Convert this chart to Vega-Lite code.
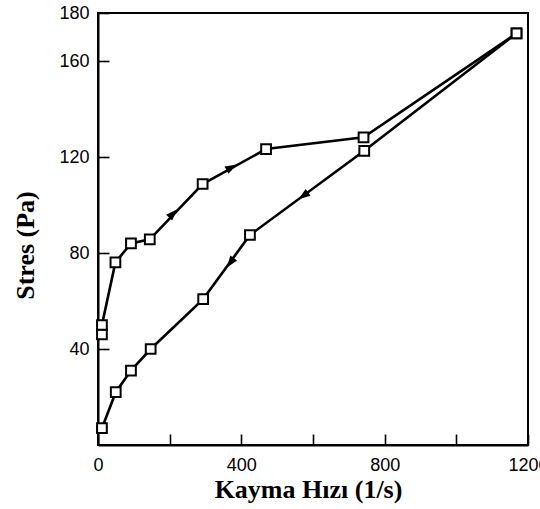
{
  "$schema": "https://vega.github.io/schema/vega-lite/v6.json",
  "width": 430,
  "height": 432,
  "autosize": {"type": "none"},
  "padding": {"left": 98, "top": 13, "right": 12, "bottom": 64},
  "background": "white",
  "config": {
    "view": {"stroke": "black", "strokeWidth": 2},
    "axis": {
      "grid": false,
      "domainColor": "black",
      "domainWidth": 2,
      "tickColor": "black",
      "tickWidth": 1.6,
      "tickSize": -11,
      "labelFont": "Liberation Sans",
      "labelFontSize": 18,
      "labelColor": "black",
      "titleFont": "Liberation Serif",
      "titleFontSize": 26,
      "titleFontWeight": "bold",
      "titleColor": "black"
    }
  },
  "datasets": {
    "olcum": [
      {"kayma": 11, "stres": 46.1, "yon": "artan", "sira": 1},
      {"kayma": 11, "stres": 50, "yon": "artan", "sira": 2},
      {"kayma": 48.6, "stres": 76.1, "yon": "artan", "sira": 3},
      {"kayma": 92, "stres": 84, "yon": "artan", "sira": 4},
      {"kayma": 144.5, "stres": 85.7, "yon": "artan", "sira": 5},
      {"kayma": 292, "stres": 108.75, "yon": "artan", "sira": 6},
      {"kayma": 469, "stres": 123.3, "yon": "artan", "sira": 7},
      {"kayma": 741, "stres": 128.2, "yon": "artan", "sira": 8},
      {"kayma": 1168, "stres": 171.5, "yon": "artan", "sira": 9},
      {"kayma": 1168, "stres": 171.5, "yon": "azalan", "sira": 1},
      {"kayma": 743, "stres": 122.6, "yon": "azalan", "sira": 2},
      {"kayma": 424, "stres": 87.5, "yon": "azalan", "sira": 3},
      {"kayma": 293.5, "stres": 60.8, "yon": "azalan", "sira": 4},
      {"kayma": 147, "stres": 40, "yon": "azalan", "sira": 5},
      {"kayma": 92, "stres": 31, "yon": "azalan", "sira": 6},
      {"kayma": 49.5, "stres": 22, "yon": "azalan", "sira": 7},
      {"kayma": 11, "stres": 7, "yon": "azalan", "sira": 8}
    ],
    "oklar": [
      {"kayma": 210, "stres": 96.5, "ok": "a1"},
      {"kayma": 373, "stres": 115.7, "ok": "a2"},
      {"kayma": 573, "stres": 103.8, "ok": "b1"},
      {"kayma": 369, "stres": 75.9, "ok": "b2"}
    ]
  },
  "layer": [
    {
      "data": {"name": "olcum"},
      "mark": {"type": "line", "color": "black", "strokeWidth": 2.6},
      "encoding": {
        "x": {
          "field": "kayma", "type": "quantitative",
          "scale": {"domain": [0, 1200], "nice": false, "zero": false},
          "axis": {
            "title": "Kayma Hızı (1/s)",
            "values": [0, 200, 400, 600, 800, 1000, 1200],
            "labelExpr": "datum.value % 400 == 0 ? datum.label : ''",
            "labelPadding": 22,
            "labelFlush": false,
            "labelOverlap": false,
            "format": "d",
            "titleBaseline": "alphabetic",
            "titleX": 210,
            "titleY": 52
          }
        },
        "y": {
          "field": "stres", "type": "quantitative",
          "scale": {"domain": [0, 180], "nice": false},
          "axis": {
            "title": "Stres (Pa)",
            "values": [40, 80, 120, 160, 180],
            "labelPadding": 20,
            "labelFlush": false,
            "labelOverlap": false,
            "titleX": -60,
            "titleY": 232
          }
        },
        "detail": {"field": "yon"},
        "order": {"field": "sira", "type": "quantitative"}
      }
    },
    {
      "data": {"name": "olcum"},
      "mark": {"type": "point", "shape": "square", "size": 95, "filled": false, "fill": "white", "stroke": "black", "strokeWidth": 2, "opacity": 1},
      "encoding": {
        "x": {"field": "kayma", "type": "quantitative"},
        "y": {"field": "stres", "type": "quantitative"}
      }
    },
    {
      "data": {"name": "oklar"},
      "mark": {"type": "point", "shape": "M0,-1L0.7,1L-0.7,1Z", "size": 140, "filled": true, "color": "black", "opacity": 1},
      "encoding": {
        "x": {"field": "kayma", "type": "quantitative"},
        "y": {"field": "stres", "type": "quantitative"},
        "angle": {
          "field": "ok", "type": "nominal",
          "scale": {"type": "ordinal", "domain": ["a1", "a2", "b1", "b2"], "range": [44, 61, 234, 216]},
          "legend": null
        }
      }
    }
  ]
}
